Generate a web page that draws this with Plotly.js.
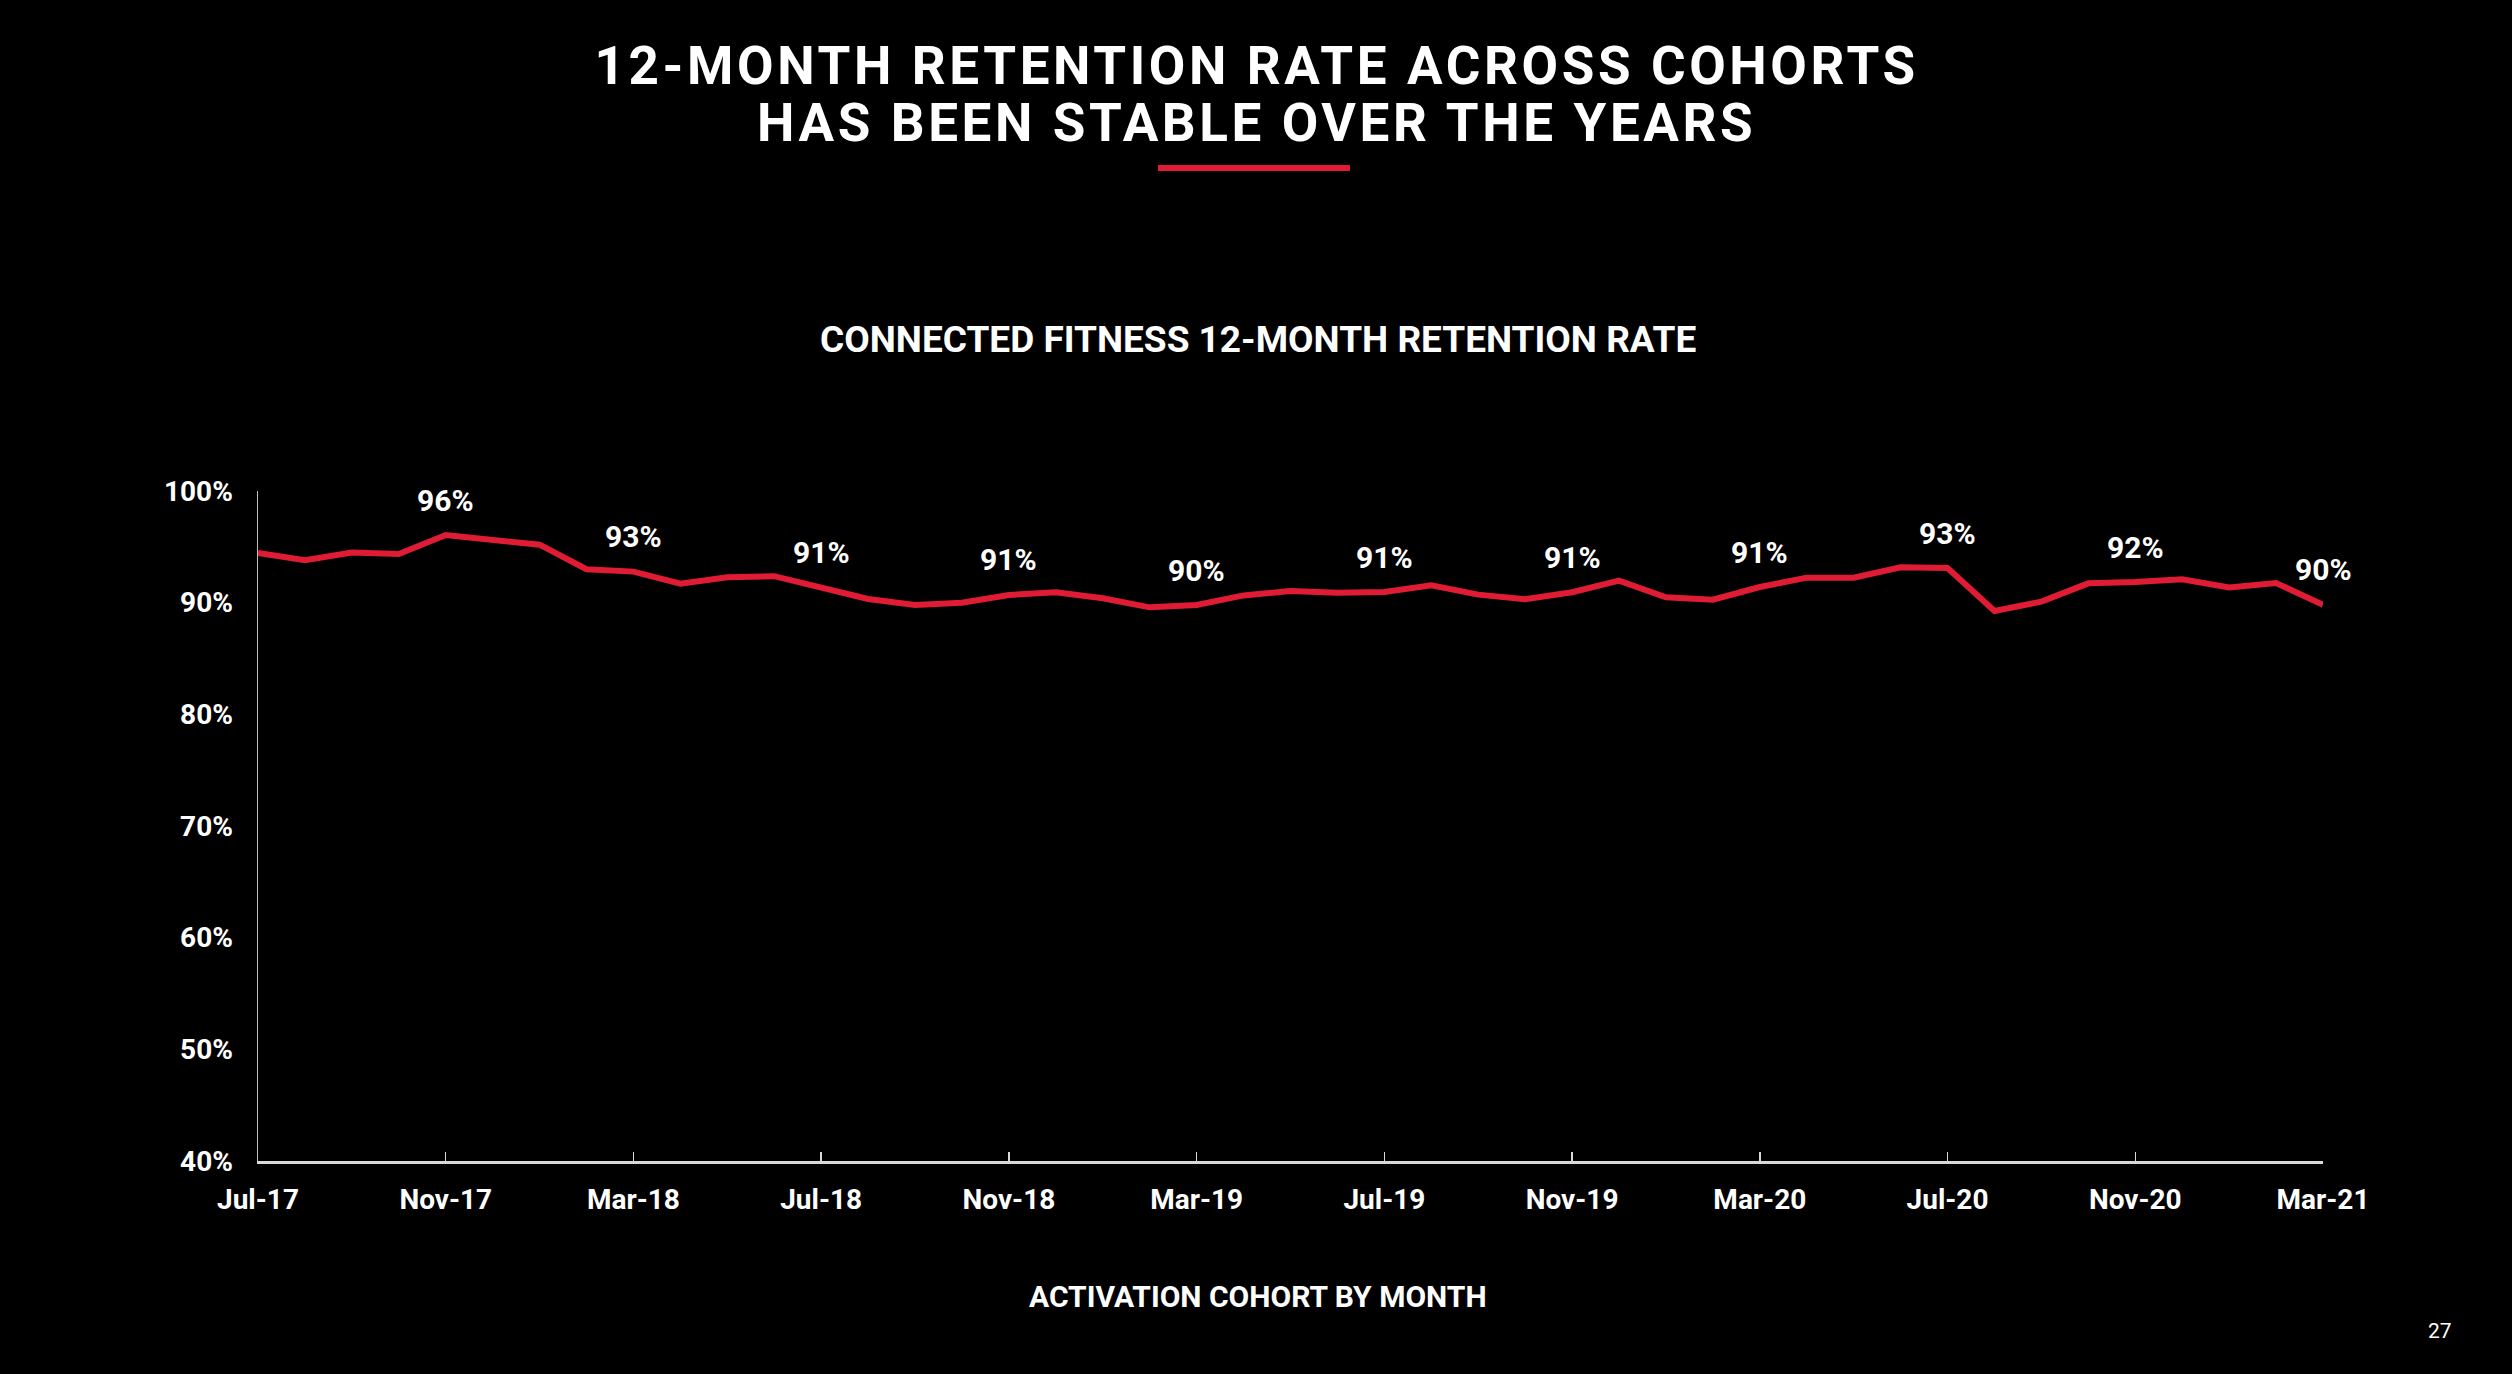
<!DOCTYPE html>
<html>
<head>
<meta charset="utf-8">
<script src="https://cdn.plot.ly/plotly-3.0.1.min.js"></script>
<style>
  html, body { margin: 0; padding: 0; background: #000; }
  #chart { width: 2512px; height: 1374px; }
</style>
</head>
<body>
<div id="chart"></div>
<script>
// Activation cohort months (categories)
const months = [
  "Jul-17","Aug-17","Sep-17","Oct-17","Nov-17","Dec-17","Jan-18","Feb-18","Mar-18","Apr-18","May-18","Jun-18",
  "Jul-18","Aug-18","Sep-18","Oct-18","Nov-18","Dec-18","Jan-19","Feb-19","Mar-19","Apr-19","May-19","Jun-19",
  "Jul-19","Aug-19","Sep-19","Oct-19","Nov-19","Dec-19","Jan-20","Feb-20","Mar-20","Apr-20","May-20","Jun-20",
  "Jul-20","Aug-20","Sep-20","Oct-20","Nov-20","Dec-20","Jan-21","Feb-21","Mar-21"
];

// 12-month retention rate (%)
const retention = [
  94.45, 93.8, 94.5, 94.36, 96.06, 95.67, 95.19, 92.99, 92.78, 91.7, 92.27, 92.37,
  91.37, 90.33, 89.79, 90.0, 90.69, 90.93, 90.39, 89.58, 89.79, 90.65, 91.04, 90.89,
  90.95, 91.55, 90.72, 90.3, 90.93, 91.97, 90.48, 90.27, 91.4, 92.24, 92.24, 93.17,
  93.1, 89.25, 90.09, 91.73, 91.85, 92.09, 91.37, 91.76, 89.82
];

// Data labels shown on the chart (every 4th cohort)
const pointLabels = [
  "", "", "", "", "96%", "", "", "", "93%", "", "", "",
  "91%", "", "", "", "91%", "", "", "", "90%", "", "", "",
  "91%", "", "", "", "91%", "", "", "", "91%", "", "", "",
  "93%", "", "", "", "92%", "", "", "", "90%"
];

// X-axis tick labels
const xTickLabels = ["Jul-17","Nov-17","Mar-18","Jul-18","Nov-18","Mar-19","Jul-19","Nov-19","Mar-20","Jul-20","Nov-20","Mar-21"];

// Y-axis ticks
const yTickValues = [40, 50, 60, 70, 80, 90, 100];

const titleLine1 = "12-MONTH RETENTION RATE ACROSS COHORTS";
const titleLine2 = "HAS BEEN STABLE OVER THE YEARS";
const chartSubtitle = "CONNECTED FITNESS 12-MONTH RETENTION RATE";
const xAxisTitle = "ACTIVATION COHORT BY MONTH";
const pageNumber = "27";

const RED = "#DF1C34";
const FONT = "Roboto, 'Open Sans', sans-serif";

const trace = {
  type: "scatter",
  mode: "lines",
  x: months,
  y: retention,
  line: { color: RED, width: 6 },
  hoverinfo: "skip"
};

const annotations = [];
months.forEach((m, i) => {
  if (pointLabels[i]) {
    annotations.push({
      x: m, y: retention[i], xref: "x", yref: "y",
      text: pointLabels[i], showarrow: false,
      yanchor: "middle", xanchor: "center", yshift: 35,
      font: { family: FONT, size: 30, color: "#ffffff", weight: 700 }
    });
  }
});

annotations.push(
  { xref: "paper", yref: "paper", x: 0.4833, y: 1.6343, text: titleLine1, showarrow: false,
    xanchor: "center", yanchor: "middle", font: { family: FONT, size: 53, color: "#ffffff", weight: 700 } },
  { xref: "paper", yref: "paper", x: 0.4833, y: 1.549, text: titleLine2, showarrow: false,
    xanchor: "center", yanchor: "middle", font: { family: FONT, size: 53, color: "#ffffff", weight: 700 } },
  { xref: "paper", yref: "paper", x: 0.4843, y: 1.2254, text: chartSubtitle, showarrow: false,
    xanchor: "center", yanchor: "middle", font: { family: FONT, size: 37, color: "#ffffff", weight: 700 } },
  { xref: "paper", yref: "paper", x: 0.4843, y: -0.2015, text: xAxisTitle, showarrow: false,
    xanchor: "center", yanchor: "middle", font: { family: FONT, size: 30, color: "#ffffff", weight: 700 } },
  { xref: "paper", yref: "paper", x: 1.0567, y: -0.2537, text: pageNumber, showarrow: false,
    xanchor: "center", yanchor: "middle", font: { family: FONT, size: 21, color: "#ffffff" } }
);

const layout = {
  width: 2512, height: 1374,
  margin: { l: 258, r: 189, t: 491, b: 213, pad: 0 },
  paper_bgcolor: "#000000",
  plot_bgcolor: "#000000",
  showlegend: false,
  font: { family: FONT, color: "#ffffff" },
  xaxis: {
    type: "category",
    range: [0, months.length - 1],
    tickmode: "array",
    tickvals: xTickLabels,
    ticktext: xTickLabels,
    ticks: "inside", ticklen: 9, tickwidth: 1.5, tickcolor: "#d9d9d9",
    showline: true, linecolor: "#d9d9d9", linewidth: 2.5,
    showgrid: false, zeroline: false,
    ticklabelstandoff: 12,
    tickfont: { family: FONT, size: 28, color: "#ffffff", weight: 700 }
  },
  yaxis: {
    range: [40, 100],
    tickmode: "array",
    tickvals: yTickValues,
    ticktext: yTickValues.map(v => v + "%"),
    ticks: "",
    showline: true, linecolor: "#bfbfbf", linewidth: 1.5,
    showgrid: false, zeroline: false,
    ticklabelstandoff: 18,
    tickfont: { family: FONT, size: 28, color: "#ffffff", weight: 700 }
  },
  shapes: [
    { type: "rect", xref: "paper", yref: "paper",
      x0: 0.4358, x1: 0.5288, y0: 1.4776, y1: 1.4866,
      fillcolor: RED, line: { width: 0 } }
  ],
  annotations: annotations
};

Plotly.newPlot("chart", [trace], layout, { staticPlot: true, displayModeBar: false }).then(() => {
  document.querySelectorAll(".annotation-text").forEach(t => {
    const s = t.textContent;
    if (s === titleLine1 || s === titleLine2) {
      t.style.letterSpacing = "3.6px";
    }
  });
});
</script>
</body>
</html>
